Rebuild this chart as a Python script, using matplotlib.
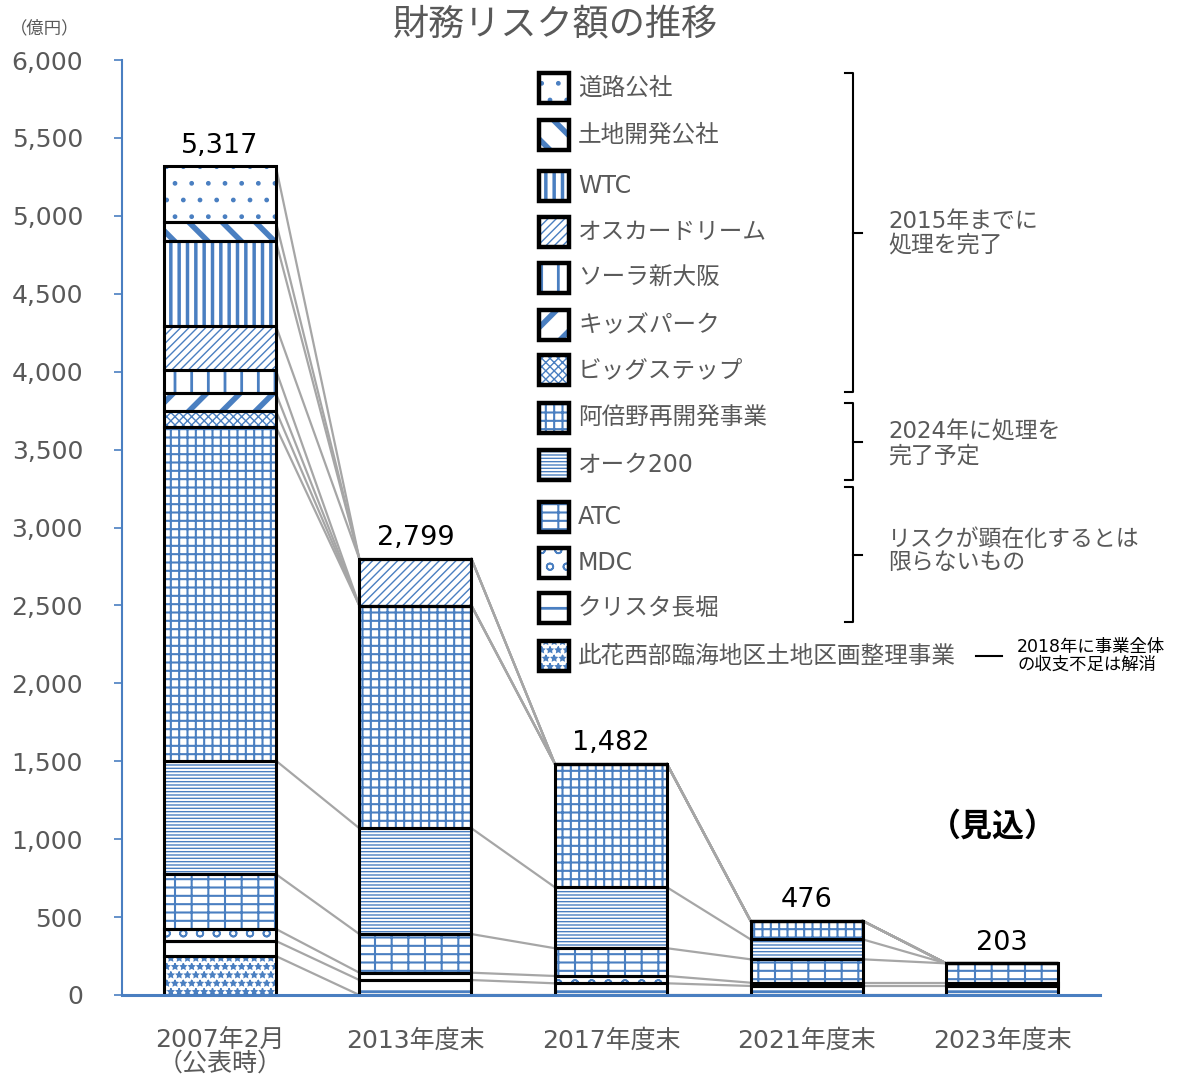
import matplotlib
matplotlib.use("Agg")
import matplotlib.pyplot as plt
from matplotlib.patches import Rectangle
from matplotlib.lines import Line2D

plt.rcParams['font.family'] = ['DejaVu Sans', 'Noto Sans CJK JP']

categories = ["2007年2月\n（公表時）", "2013年度末", "2017年度末", "2021年度末", "2023年度末"]
totals = [5317, 2799, 1482, 476, 203]

# stacked bottom -> top
series_names = ["此花西部臨海地区土地区画整理事業", "クリスタ長堀", "MDC", "ATC", "オーク200",
                "阿倍野再開発事業", "ビッグステップ", "キッズパーク", "ソーラ新大阪",
                "オスカードリーム", "WTC", "土地開発公社", "道路公社"]
konohana = [250, 0, 0, 0, 0]
crysta = [97, 96, 75, 58, 58]
mdc = [77, 47, 47, 21, 21]
atc = [352, 248, 178, 150, 124]
oak200 = [728, 679, 391, 128, 0]
abeno = [2143, 1429, 791, 119, 0]
bigstep = [103, 0, 0, 0, 0]
kids = [111, 0, 0, 0, 0]
sola = [150, 0, 0, 0, 0]
oscar = [284, 300, 0, 0, 0]
wtc = [543, 0, 0, 0, 0]
tochi = [124, 0, 0, 0, 0]
doro = [355, 0, 0, 0, 0]
series_values = [konohana, crysta, mdc, atc, oak200, abeno, bigstep, kids, sola,
                 oscar, wtc, tochi, doro]

# hatch, hatch linewidth per series
hatches = ["**", "-", "o", "+-", "-----", "++", "xxxx", "/", "|", "////", "||", "\\", "."]
hatch_lw = [1.0, 2.0, 1.2, 1.5, 1.0, 1.5, 1.0, 4.0, 2.0, 1.0, 2.5, 4.0, 1.0]

BLUE = "#4a7fc1"
GRAY_TXT = "#595959"
W, H = 1180, 1082

fig = plt.figure(figsize=(W / 100, H / 100), dpi=100)
ax = fig.add_axes([122 / W, 87 / H, 978 / W, 935 / H])

def fx(px):
    return px / W

def fy(py):
    return 1 - py / H

def set_hlw(p, lw):
    if hasattr(p, "set_hatch_linewidth"):
        p.set_hatch_linewidth(lw)

x = list(range(len(categories)))
bw = 0.573
bottoms = [0] * len(x)
tops_per_series = []
for vals, h, hl in zip(series_values, hatches, hatch_lw):
    plt.rcParams['hatch.linewidth'] = hl
    bars = ax.bar(x, vals, bw, bottom=bottoms, color="white", edgecolor=BLUE,
                  hatch=h, linewidth=0, zorder=2)
    for p in bars:
        set_hlw(p, hl)
    ax.bar(x, vals, bw, bottom=bottoms, fill=False, edgecolor="black",
           linewidth=2.2, zorder=3)
    bottoms = [b + v for b, v in zip(bottoms, vals)]
    tops_per_series.append(list(bottoms))

# series lines
for tops in tops_per_series:
    for i in range(len(x) - 1):
        ax.plot([x[i] + bw / 2, x[i + 1] - bw / 2], [tops[i], tops[i + 1]],
                color="#a6a6a6", lw=1.6, zorder=1)

for xi, t in zip(x, totals):
    ax.text(xi, t + 50, f"{t:,}", ha="center", va="bottom", fontsize=19.5, color="black")

ax.set_xlim(-0.5, 4.5)
ax.set_ylim(0, 6000)
ax.set_yticks(range(0, 6001, 500))
ax.set_yticklabels([f"{v:,}" for v in range(0, 6001, 500)], fontsize=18, color=GRAY_TXT)
ax.set_xticks(x)
ax.set_xticklabels(categories, fontsize=18, color=GRAY_TXT, linespacing=0.95)
ax.tick_params(axis="x", length=0, pad=24)
ax.tick_params(axis="y", length=6, width=1.2, color=BLUE, direction="out", pad=22)
for s in ["top", "right"]:
    ax.spines[s].set_visible(False)
ax.spines["left"].set_color(BLUE)
ax.spines["left"].set_linewidth(1.5)
ax.spines["bottom"].set_color(BLUE)
ax.spines["bottom"].set_linewidth(2.2)
ax.spines["bottom"].set_zorder(4)

ax.text(3.95, 1080, "（見込）", ha="center", va="center", fontsize=23,
        fontweight="bold", color="black")

fig.text(fx(555), fy(25), "財務リスク額の推移", ha="center", va="center", fontsize=26, color=GRAY_TXT)
fig.text(fx(45), fy(28), "（億円）", ha="center", va="center", fontsize=12.5, color=GRAY_TXT)

# legend (top to bottom)
leg_y = [88, 135, 186, 232, 278, 325, 370, 418, 465, 517, 563, 608, 656]
order = list(range(len(series_names)))[::-1]
for yy, si in zip(leg_y, order):
    plt.rcParams['hatch.linewidth'] = hatch_lw[si]
    r = Rectangle((fx(539), fy(yy + 15)), 30 / W, 30 / H, transform=fig.transFigure,
                  facecolor="white", edgecolor=BLUE, hatch=hatches[si], linewidth=0)
    set_hlw(r, hatch_lw[si])
    fig.patches.append(r)
    fig.patches.append(Rectangle((fx(539), fy(yy + 15)), 30 / W, 30 / H,
                                 transform=fig.transFigure, fill=False,
                                 edgecolor="black", linewidth=3.2))
    fig.text(fx(578), fy(yy), series_names[si], ha="left", va="center",
             fontsize=17, color=GRAY_TXT)

def bracket(y0, y1):
    ym = (y0 + y1) / 2
    fig.lines.append(Line2D([fx(845), fx(853), fx(853), fx(845)],
                            [fy(y0), fy(y0), fy(y1), fy(y1)],
                            transform=fig.transFigure, color="black", lw=1.5))
    fig.lines.append(Line2D([fx(853), fx(862)], [fy(ym), fy(ym)],
                            transform=fig.transFigure, color="black", lw=1.5))

bracket(73, 392)
bracket(403, 480)
bracket(487, 622)
fig.text(fx(888), fy(233), "2015年までに\n処理を完了", ha="left", va="center",
         fontsize=16.5, color=GRAY_TXT, linespacing=1.05)
fig.text(fx(888), fy(444), "2024年に処理を\n完了予定", ha="left", va="center",
         fontsize=16.5, color=GRAY_TXT, linespacing=1.05)
fig.text(fx(888), fy(551), "リスクが顕在化するとは\n限らないもの", ha="left", va="center",
         fontsize=16.5, color=GRAY_TXT, linespacing=1.05)
fig.lines.append(Line2D([fx(976), fx(1002)], [fy(656), fy(656)],
                        transform=fig.transFigure, color="black", lw=1.5))
fig.text(fx(1017), fy(656), "2018年に事業全体\nの収支不足は解消", ha="left", va="center",
         fontsize=12.5, color="black", linespacing=1.0)

fig.savefig("out.png", dpi=100)
